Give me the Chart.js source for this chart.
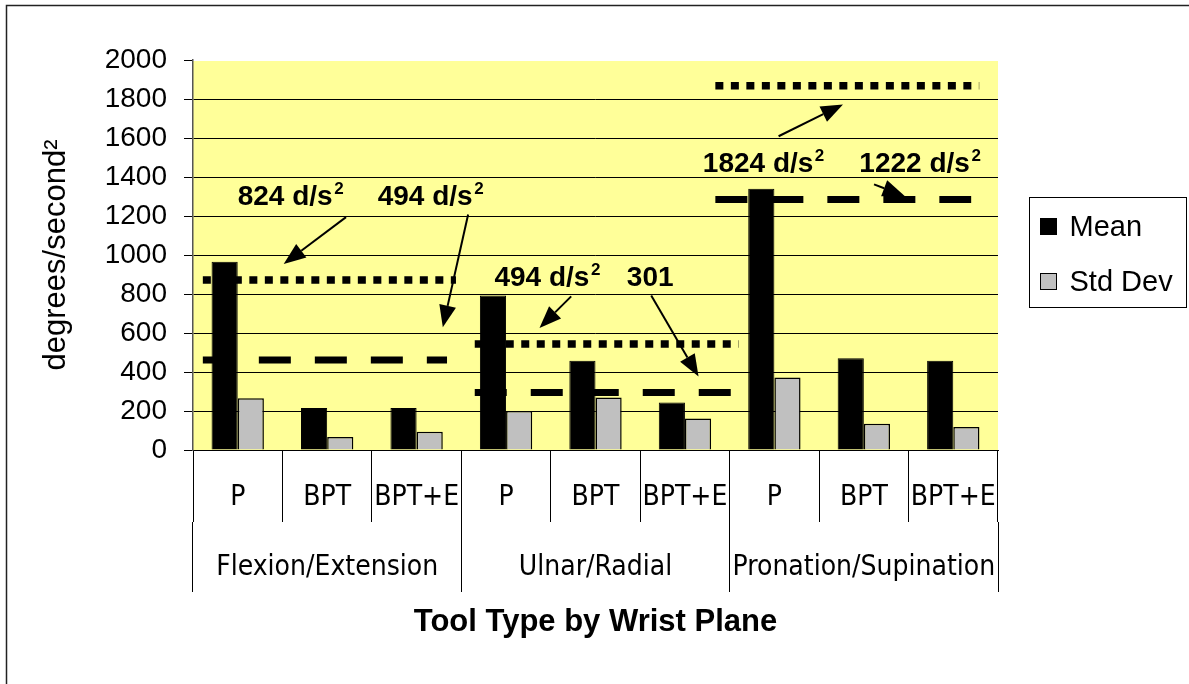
<!DOCTYPE html>
<html><head><meta charset="utf-8">
<script src="https://cdn.jsdelivr.net/npm/chart.js@4/dist/chart.umd.min.js"></script>
<style>html,body{margin:0;padding:0;background:#fff}#wrap{width:1189px;height:684px;position:relative}</style>
</head><body><div id="wrap"><canvas id="c" width="1189" height="684"></canvas></div>
<script>
// ---- data ----
const categories = ['P','BPT','BPT+E','P','BPT','BPT+E','P','BPT','BPT+E'];
const groups = ['Flexion/Extension','Ulnar/Radial','Pronation/Supination'];
const meanValues = [966,216,216,792,458,243,1340,471,458];
const stdDevValues = [266,67,94,200,269,161,372,135,118];
const yTickValues = [0,200,400,600,800,1000,1200,1400,1600,1800,2000];

// reference levels per wrist plane
const dottedLevels = [872,543,1868];
const dashedLevels = [461,295,1284];
const refLineStart = [-0.39,2.65,5.34];
const dottedLineEnd = [2.44,5.6,8.29];
const dashedLineEnd = [2.34,5.52,8.2];

// annotations (category index, value)
const noteTexts = ['824 d/s','494 d/s','494 d/s','301','1824 d/s','1222 d/s'];
const noteSups = ['2','2','2','','2','2'];
const noteX = [0.0,1.565,2.87,4.35,5.2,6.95];
const noteY = [1258,1258,843,843,1426,1426];
const arrowFromX = [1.211,2.576,3.728,4.623,6.047,7.114];
const arrowFromY = [1194,1208,788,792,1609,1362];
const arrowToX = [0.514,2.293,3.374,5.152,6.767,7.457];
const arrowToY = [954,629,626,377,1772,1302];

Chart.defaults.color = '#000';
const SANS = '"Liberation Sans", Arial, sans-serif';
const NARROW = '"Liberation Sans Narrow", "Arial Narrow", "DejaVu Sans Condensed", sans-serif';

const bgPlugin = {
  id:'bg',
  beforeDraw(chart){
    const {ctx, chartArea:a} = chart;
    ctx.save();
    ctx.fillStyle = '#FFFF99';
    ctx.fillRect(a.left, a.top+1, a.right-a.left, a.bottom-a.top-1);
    ctx.restore();
  }
};

const overlayPlugin = {
  id:'overlay',
  afterDatasetsDraw(chart){
    const {ctx} = chart;
    const xs = chart.scales.x, ys = chart.scales.y;
    ctx.save();
    ctx.strokeStyle = '#000';
    ctx.lineCap = 'butt';
    ctx.lineWidth = 7.5;
    ctx.setLineDash([8,7.5]);
    dottedLevels.forEach((v,i)=>{
      const y = ys.getPixelForValue(v);
      ctx.beginPath();
      ctx.moveTo(xs.getPixelForValue(refLineStart[i]), y);
      ctx.lineTo(xs.getPixelForValue(dottedLineEnd[i]), y);
      ctx.stroke();
    });
    ctx.lineWidth = 7;
    ctx.setLineDash([32,24]);
    dashedLevels.forEach((v,i)=>{
      const y = ys.getPixelForValue(v);
      ctx.beginPath();
      ctx.moveTo(xs.getPixelForValue(refLineStart[i]), y);
      ctx.lineTo(xs.getPixelForValue(dashedLineEnd[i]), y);
      ctx.stroke();
    });
    ctx.setLineDash([]);
    arrowFromX.forEach((fx,i)=>{
      const x1 = xs.getPixelForValue(fx), y1 = ys.getPixelForValue(arrowFromY[i]);
      const x2 = xs.getPixelForValue(arrowToX[i]), y2 = ys.getPixelForValue(arrowToY[i]);
      const ang = Math.atan2(y2-y1, x2-x1);
      const hl = 22, hw = 8.5;
      const bx = x2 - hl*Math.cos(ang), by = y2 - hl*Math.sin(ang);
      ctx.lineWidth = 2;
      ctx.beginPath(); ctx.moveTo(x1,y1); ctx.lineTo(bx,by); ctx.stroke();
      ctx.beginPath();
      ctx.moveTo(x2,y2);
      ctx.lineTo(bx + hw*Math.sin(ang), by - hw*Math.cos(ang));
      ctx.lineTo(bx - hw*Math.sin(ang), by + hw*Math.cos(ang));
      ctx.closePath();
      ctx.fillStyle = '#000';
      ctx.fill();
    });
    ctx.fillStyle = '#000';
    ctx.textAlign = 'left';
    ctx.textBaseline = 'alphabetic';
    noteTexts.forEach((t,i)=>{
      const x = xs.getPixelForValue(noteX[i]), y = ys.getPixelForValue(noteY[i]);
      ctx.font = 'bold 28px ' + SANS;
      ctx.fillText(t, x, y);
      if (noteSups[i]) {
        const w = ctx.measureText(t).width;
        ctx.font = 'bold 17px ' + SANS;
        ctx.fillText(noteSups[i], x + w + 1.5, y - 11);
      }
    });
    ctx.restore();
  },
  afterDraw(chart){
    const {ctx, chartArea:a} = chart;
    ctx.save();
    const lx = a.right + 31.5, ly = 197.5;
    ctx.strokeStyle = '#000';
    ctx.lineWidth = 1;
    ctx.strokeRect(lx, ly, 157, 110);
    ctx.font = '29px ' + SANS;
    ctx.textBaseline = 'alphabetic';
    chart.data.datasets.forEach((ds,i)=>{
      const sy = ly + 21 + i*55;
      ctx.fillStyle = ds.backgroundColor;
      ctx.fillRect(lx+11, sy, 16, 16);
      ctx.strokeRect(lx+11, sy, 16, 16);
      ctx.fillStyle = '#000';
      ctx.fillText(ds.label, lx+40, sy+17);
    });
    ctx.strokeStyle = '#222';
    ctx.lineWidth = 1.5;
    ctx.beginPath();
    ctx.moveTo(6.5, 684); ctx.lineTo(6.5, 5.5); ctx.lineTo(1189, 5.5);
    ctx.stroke();
    ctx.restore();
  }
};

new Chart(document.getElementById('c'), {
  type:'bar',
  data:{
    labels: categories,
    datasets:[
      {label:'Mean', data:meanValues, backgroundColor:'#000000', borderColor:'#000', borderWidth:1},
      {label:'Std Dev', data:stdDevValues, backgroundColor:'#C0C0C0', borderColor:'#000', borderWidth:1.5}
    ]
  },
  options:{
    responsive:false, animation:false, devicePixelRatio:1,
    layout:{padding:{top:60,right:191,bottom:43,left:0}},
    plugins:{legend:{display:false}, tooltip:{enabled:false}},
    datasets:{bar:{categoryPercentage:0.585, barPercentage:1}},
    scales:{
      x:{
        type:'category', position:'bottom', weight:0, offset:true,
        grid:{offset:true, drawOnChartArea:false, drawTicks:true, tickLength:72, tickColor:'#000', tickWidth:1},
        border:{display:true, color:'#000', width:1},
        ticks:{autoSkip:false, maxRotation:0, minRotation:0, padding:-40.8, color:'#000', font:{family:NARROW, size:28}},
        afterFit(s){ s.height = 72; }
      },
      x2:{
        type:'category', labels:groups, position:'bottom', weight:1, offset:true,
        grid:{offset:true, drawOnChartArea:false, drawTicks:true, tickLength:70, tickColor:'#000', tickWidth:1},
        border:{display:false},
        ticks:{autoSkip:false, maxRotation:0, minRotation:0, padding:-40.8, color:'#000', font:{family:NARROW, size:28}},
        title:{display:true, text:'Tool Type by Wrist Plane', color:'#000', font:{family:SANS, size:31, weight:'bold'}, padding:{top:0,bottom:0}},
        afterFit(s){ s.height = 119; }
      },
      y:{
        min:0, max:2000,
        afterBuildTicks(s){ s.ticks = yTickValues.map(v=>({value:v})); },
        grid:{color:(c)=> (c.tick && c.tick.value===2000) ? 'rgba(0,0,0,0)' : '#000', lineWidth:1, drawTicks:true, tickLength:9, tickColor:'#000', tickWidth:1},
        border:{display:true, color:'#555', width:1.5},
        ticks:{padding:17, color:'#000', font:{family:SANS, size:28}, callback:(v)=>String(v)},
        title:{display:true, text:'degrees/second\u00B2', color:'#000', font:{family:SANS, size:31}, padding:{top:38,bottom:0}},
        afterFit(s){ s.width = 193; }
      }
    }
  },
  plugins:[bgPlugin, overlayPlugin]
});
</script>
</body></html>
